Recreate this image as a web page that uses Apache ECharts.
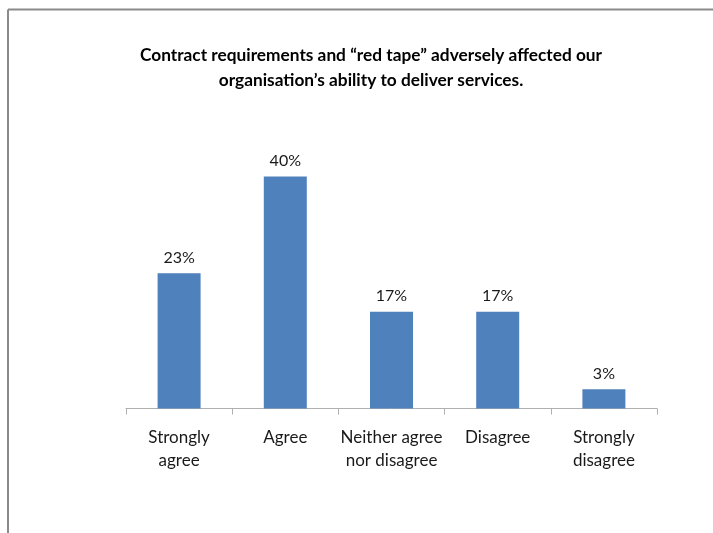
<!DOCTYPE html>
<html>
<head>
<meta charset="utf-8">
<script src="https://cdn.jsdelivr.net/npm/echarts@6/dist/echarts.min.js"></script>
<style>
html,body{margin:0;padding:0;background:#fff;}
#chart{width:713px;height:533px;}
</style>
</head>
<body>
<div id="chart"></div>
<script>
var titleText = 'Contract requirements and \u201Cred tape\u201D adversely affected our\norganisation\u2019s ability to deliver services.';
var categories = ['Strongly\nagree', 'Agree', 'Neither agree\nnor disagree', 'Disagree', 'Strongly\ndisagree'];
var values = [23.3, 40.0, 16.7, 16.7, 3.3];

var chart = echarts.init(document.getElementById('chart'), null, {renderer: 'canvas'});
chart.setOption({
  backgroundColor: '#ffffff',
  animation: false,
  title: {
    text: titleText,
    left: 366,
    top: 38,
    textAlign: 'center',
    textStyle: {
      fontFamily: 'Lato',
      fontWeight: 'bold',
      fontSize: 17.3,
      lineHeight: 25,
      color: '#000000'
    }
  },
  graphic: [
    {type: 'line', shape: {x1: 8, y1: 9.5, x2: 713, y2: 9.5}, style: {stroke: '#8a8a8a', lineWidth: 2}},
    {type: 'line', shape: {x1: 8, y1: 9.5, x2: 8, y2: 533}, style: {stroke: '#8a8a8a', lineWidth: 2}}
  ],
  grid: {left: 126, right: 56, top: 118.5, bottom: 124.5, containLabel: false},
  xAxis: {
    type: 'category',
    data: categories,
    axisLine: {lineStyle: {color: '#b0b0b0', width: 1}},
    axisTick: {show: true, length: 6, alignWithLabel: false, lineStyle: {color: '#b0b0b0'}},
    axisLabel: {
      interval: 0,
      margin: 18,
      fontFamily: 'Lato',
      fontSize: 17,
      lineHeight: 23,
      color: '#1a1a1a'
    }
  },
  yAxis: {
    type: 'value',
    min: 0,
    max: 50,
    show: false,
    splitLine: {show: false}
  },
  series: [{
    type: 'bar',
    data: values,
    barWidth: 43,
    itemStyle: {color: '#4F81BD'},
    label: {
      show: true,
      position: 'top',
      distance: 8,
      fontFamily: 'Lato',
      fontSize: 16,
      color: '#1a1a1a',
      formatter: function (p) { return Math.round(p.value) + '%'; }
    }
  }]
});
</script>
</body>
</html>
